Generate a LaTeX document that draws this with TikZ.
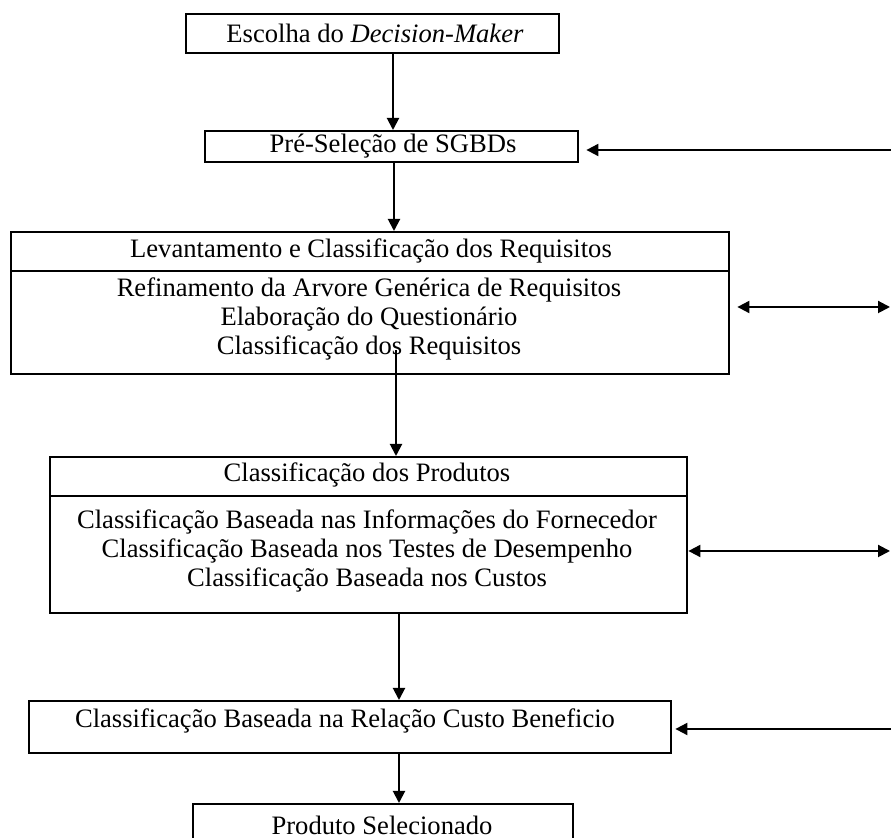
\documentclass[tikz,border=0pt]{standalone}
\usepackage{fontspec}
\setmainfont{Liberation Serif}
\usetikzlibrary{arrows.meta}
\begin{document}
\begin{tikzpicture}[x=0.5pt,y=-0.5pt,
  box/.style={draw, line width=1.2pt, rectangle, inner sep=0pt, anchor=north west},
  lbl/.style={inner sep=0pt, align=center, font=\fontsize{13.3}{14.5}\selectfont},
  tip/.style={Triangle[length=6pt,width=6pt]},
  flow/.style={line width=1pt, -{Triangle[length=6pt,width=6pt]}},
  both/.style={line width=1pt, {Triangle[length=6pt,width=6pt]}-{Triangle[length=6pt,width=6pt]}}]

% page frame
\useasboundingbox (0,0) rectangle (891,838);
\clip (0,0) rectangle (891,838);
\fill[white] (0,0) rectangle (891,838);

% boxes
\node[box, minimum width=186.5pt, minimum height=19.5pt] (b1)  at (185,13)  {};
\node[box, minimum width=186.5pt, minimum height=15.5pt] (b2)  at (204,130) {};
\node[box, minimum width=359pt,   minimum height=19.5pt] (b3h) at (10,231)  {};
\node[box, minimum width=359pt,   minimum height=51.5pt] (b3b) at (10,270)  {};
\node[box, minimum width=318.5pt, minimum height=19.5pt] (b4h) at (49,456)  {};
\node[box, minimum width=318.5pt, minimum height=58.5pt] (b4b) at (49,495)  {};
\node[box, minimum width=321pt,   minimum height=26pt]   (b5)  at (28,700)  {};
\node[box, minimum width=190pt,   minimum height=30pt]   (b6)  at (192,803) {};

% texts
\node[lbl] (t1)  at (375,33)    {Escolha do \textit{Decision-Maker}};
\node[lbl] (t2)  at (393,146)   {Pré-Seleção de SGBDs};
\node[lbl] (t3h) at (371,250.5) {Levantamento e Classificação dos Requisitos};
\node[lbl] (t3b) at (369,318.5) {Refinamento da Arvore Genérica de Requisitos\\Elaboração do Questionário\\Classificação dos Requisitos};
\node[lbl] (t4h) at (367,475)   {Classificação dos Produtos};
\node[lbl] (t4b) at (367,550.5) {Classificação Baseada nas Informações do Fornecedor\\Classificação Baseada nos Testes de Desempenho\\Classificação Baseada nos Custos};
\node[lbl] (t5)  at (345,721)   {Classificação Baseada na Relação Custo Beneficio};
\node[lbl] (t6)  at (382,825)   {Produto Selecionado};

% vertical flow
\coordinate (c1) at (393,0);
\coordinate (c2) at (394,0);
\coordinate (c3) at (396,350);
\coordinate (c4) at (399,0);
\draw[flow] (b1.south -| c1) -- (b2.north -| c1);
\draw[flow] (b2.south -| c2) -- (b3h.north -| c2);
\draw[flow] (c3) -- (b4h.north -| c3);
\draw[flow] (b4b.south -| c4) -- (b5.north -| c4);
\draw[flow] (b5.south -| c4) -- (b6.north -| c4);

% feedback links on the right
\coordinate (r1) at (891,150);
\coordinate (r2) at (890,307);
\coordinate (r3) at (890,551);
\coordinate (r4) at (891,729);
\draw[flow] (r1) -- (b2.east |- r1) [shorten >=3.5pt];
\draw[both, shorten <=3.5pt] (b3b.east |- r2) -- (r2);
\draw[both] (b4b.east |- r3) -- (r3);
\draw[flow, shorten >=1.5pt] (r4) -- (b5.east |- r4);
\end{tikzpicture}
\end{document}
